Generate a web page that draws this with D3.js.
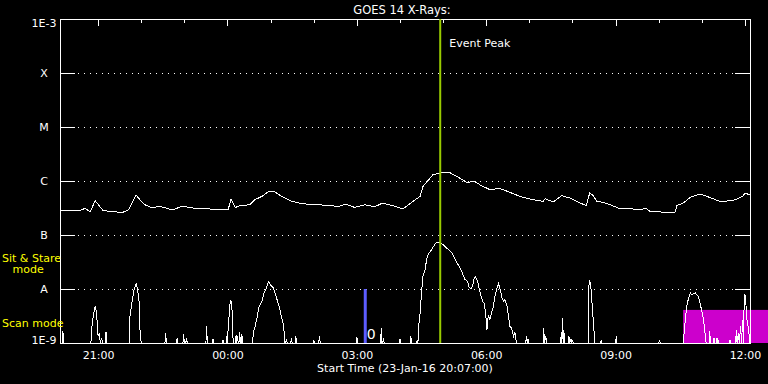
<!DOCTYPE html>
<html>
<head>
<meta charset="utf-8">
<script src="https://cdn.jsdelivr.net/npm/d3@7"></script>
<style>
  body { margin: 0; background: #000; }
  svg { display: block; background: #000; }
  text { font-family: "DejaVu Sans", sans-serif; fill: #fff; }
</style>
</head>
<body>
<svg id="chart" width="768" height="384"></svg>
<script>
// time axis: 23-Jan-16 20:07 to 24-Jan-16 12:07 UT
const startTime = new Date(Date.UTC(2016, 0, 23, 20, 7));
const endTime = new Date(Date.UTC(2016, 0, 24, 12, 7));

// flare classes on the log axis
const classFlux = [1e-9, 1e-8, 1e-7, 1e-6, 1e-5, 1e-4, 1e-3];
const classLabels = ['1E-9', 'A', 'B', 'C', 'M', 'X', '1E-3'];

// [minutes after start, W/m^2]  long channel (1-8 A)
const longChannel = [
  [0,2.86e-7],[28,2.88e-7],[35,3.11e-7],[42,2.70e-7],[49,4.32e-7],[60,2.82e-7],[77,2.70e-7],
  [86,2.59e-7],[95,2.90e-7],[106,5.50e-7],[111,4.51e-7],[118,3.64e-7],[128,3.20e-7],[139,3.39e-7],
  [149,3.11e-7],[157,2.90e-7],[170,3.44e-7],[181,3.20e-7],[195,3.07e-7],[209,3.03e-7],[234,2.94e-7],
  [238,4.70e-7],[244,3.24e-7],[250,3.49e-7],[264,3.64e-7],[271,4.51e-7],[281,5.19e-7],[289,6.26e-7],
  [299,6.26e-7],[310,5.05e-7],[323,4.19e-7],[337,3.80e-7],[355,3.64e-7],[376,3.53e-7],[387,3.34e-7],
  [397,3.75e-7],[410,3.24e-7],[424,3.64e-7],[438,3.34e-7],[449,3.91e-7],[463,3.49e-7],[473,3.16e-7],
  [477,3.03e-7],[491,4.19e-7],[501,5.19e-7],[505,7.94e-7],[511,9.83e-7],[519,1.31e-6],[529,1.41e-6],
  [543,1.41e-6],[552,1.22e-6],[566,9.42e-7],[577,9.83e-7],[584,8.54e-7],[598,6.90e-7],[612,7.29e-7],
  [626,6.15e-7],[640,5.19e-7],[654,4.64e-7],[672,4.19e-7],[675,4.70e-7],[686,4.08e-7],[698,5.34e-7],
  [710,4.80e-7],[719,4.19e-7],[732,3.49e-7],[737,5.99e-7],[742,5.34e-7],[747,4.19e-7],[756,4.02e-7],
  [765,3.64e-7],[779,3.07e-7],[797,3.03e-7],[811,3.03e-7],[815,3.16e-7],[821,2.74e-7],[845,2.62e-7],
  [856,2.67e-7],[858,3.49e-7],[867,3.91e-7],[877,4.97e-7],[890,5.74e-7],[904,4.97e-7],[918,4.19e-7],
  [936,4.32e-7],[950,5.19e-7],[953,5.99e-7],[960,5.50e-7]
];

// short channel (0.5-4 A), 0 = below 1E-9
const shortChannel = [
  [0,0],[3,0],[4,1.69e-9],[5,0],
  [43,0],[45,2.51e-9],[49,4.91e-9],[50,4.14e-9],[51,3.34e-9],[53,1.33e-9],[55,1.55e-9],[56,0],
  [58,1.25e-9],[59,0],[63,0],[64,1.60e-9],[65,0],
  [96,0],[97,2.94e-9],[100,5.58e-9],[103,9.70e-9],[106,1.24e-8],[108,9.70e-9],[110,5.89e-9],
  [111,1.90e-9],[113,0],
  [146,0],[147,1.55e-9],[148,0],[162,0],[163,1.25e-9],[164,0],
  [171,0],[172,1.47e-9],[173,0],[175,0],[176,1.25e-9],[177,0],
  [203,0],[204,2.03e-9],[205,0],[212,0],[213,1.20e-9],[214,0],
  [226,0],[227,1.15e-9],[228,0],[231,0],[232,1.37e-9],[233,0],[234,1.92e-9],[237,6.34e-9],
  [239,5.51e-9],[240,2.18e-9],[241,0],
  [244,0],[245,1.42e-9],[246,0],[247,1.33e-9],[248,0],[249,0],[250,1.60e-9],[251,0],
  [252,0],[253,1.47e-9],[254,0],
  [268,0],[269,1.64e-9],[271,1.90e-9],[274,2.90e-9],[277,4.76e-9],[281,5.89e-9],[284,8.43e-9],
  [288,1.12e-8],[290,1.38e-8],[293,1.17e-8],[297,1.04e-8],[301,6.99e-9],[305,4.76e-9],
  [308,3.11e-9],[311,2.18e-9],[313,0],
  [314,0],[315,1.20e-9],[316,0],[321,0],[322,1.25e-9],[323,0],[327,0],[328,1.37e-9],[329,0],
  [352,0],[353,1.15e-9],[354,0],[360,0],[361,1.37e-9],[362,0],[412,0],[413,1.31e-9],[414,0],
  [446,0],[447,1.90e-9],[448,0],[449,0],[450,1.25e-9],[451,0],
  [472,0],[473,1.20e-9],[474,0],[487,0],[488,1.37e-9],[489,0],
  [496,0],[497,1.15e-9],[498,0],[499,2.03e-9],[501,3.59e-9],[503,8.43e-9],[505,1.71e-8],
  [508,2.28e-8],[510,3.49e-8],[512,4.32e-8],[517,5.34e-8],[522,6.90e-8],[525,7.42e-8],
  [529,7.11e-8],[533,6.61e-8],[538,5.74e-8],[543,4.97e-8],[546,4.51e-8],[550,3.49e-8],
  [554,2.82e-8],[559,2.12e-8],[563,1.53e-8],[567,1.38e-8],[569,1.09e-8],[572,1.00e-8],
  [574,1.12e-8],[576,1.53e-8],[578,1.67e-8],[581,1.38e-8],[583,1.04e-8],[586,7.29e-9],
  [588,5.89e-9],[590,5.51e-9],[592,3.85e-9],[594,1.76e-9],[596,3.34e-9],[598,2.70e-9],
  [601,3.85e-9],[603,4.76e-9],[605,7.29e-9],[608,1.04e-8],[610,1.25e-8],[612,1.04e-8],
  [615,6.81e-9],[617,5.89e-9],[619,6.34e-9],[622,4.76e-9],[624,3.11e-9],[626,2.03e-9],
  [628,1.90e-9],[631,1.33e-9],[633,1.57e-9],[635,0],
  [648,0],[649,1.37e-9],[650,0],[651,1.20e-9],[652,0],
  [672,0],[673,1.90e-9],[674,0],[676,1.33e-9],[677,0],
  [696,0],[697,1.29e-9],[698,0],[699,2.90e-9],[700,0],[701,1.76e-9],[702,0],
  [707,0],[708,1.37e-9],[709,0],[711,1.20e-9],[712,0],[713,1.15e-9],[714,0],
  [735,0],[736,1.20e-8],[737,1.49e-8],[739,9.70e-9],[740,5.89e-9],[741,3.85e-9],[743,1.64e-9],[744,0],
  [752,0],[753,1.10e-9],[754,0],[773,0],[774,1.33e-9],[775,0],[833,0],[834,1.15e-9],[835,0],
  [867,0],[870,2.70e-9],[872,4.76e-9],[874,6.34e-9],[877,8.43e-9],[879,7.84e-9],[881,8.18e-9],
  [884,8.43e-9],[886,7.84e-9],[888,7.29e-9],[890,5.89e-9],[893,3.85e-9],[895,2.90e-9],
  [897,1.76e-9],[899,0],
  [903,0],[904,1.64e-9],[905,0],[909,0],[910,1.24e-9],[911,0],[913,0],[914,1.24e-9],[915,0],
  [916,1.15e-9],[917,0],[931,0],[932,1.15e-9],[933,0],
  [940,0],[941,1.76e-9],[942,0],[944,1.55e-9],[945,0],[947,2.03e-9],[948,0],[950,2.70e-9],
  [951,0],[952,7.84e-9],[954,7.29e-9],[955,3.11e-9],[958,1.76e-9],[960,0]
];

// annotations (minutes after start)
const eventPeakMinute = 529;
const markerMinute = 424;
const markerTop = 1e-8;
const markerLabel = '0';
const scanWindow = { from: 867, to: 995, low: 1e-9, high: 4.1e-9 };
const modeLabels = [
  { text: 'Sit & Stare', indent: 0, flux: 3.2e-8 },
  { text: 'mode', indent: 10.5, flux: 1.95e-8 },
  { text: 'Scan mode', indent: 0, flux: 1.95e-9 }
];

const svg = d3.select('#chart');
const plotLeft = 60, plotRight = 750, plotTop = 19, plotBottom = 343;

const atMinute = m => new Date(startTime.getTime() + m * 60000);
const x = d3.scaleUtc().domain([startTime, endTime]).range([plotLeft, plotRight]);
const y = d3.scaleLog().domain([1e-9, 1e-3]).range([plotBottom, plotTop]).clamp(true);
const fy = v => y(Math.max(v, 1e-9));

// scan mode box (behind everything)
svg.append('rect')
  .attr('x', x(atMinute(scanWindow.from)))
  .attr('y', y(scanWindow.high))
  .attr('width', x(atMinute(scanWindow.to)) - x(atMinute(scanWindow.from)))
  .attr('height', y(scanWindow.low) - y(scanWindow.high))
  .attr('fill', '#cc00cc');

// dotted class lines
svg.append('g').selectAll('line')
  .data(classFlux.slice(1, -1))
  .join('line')
  .attr('x1', plotLeft + 18).attr('x2', plotRight - 15)
  .attr('y1', d => y(d) + 0.5).attr('y2', d => y(d) + 0.5)
  .attr('stroke', '#fff')
  .attr('stroke-dasharray', '1 5')
  .attr('shape-rendering', 'crispEdges');

// axes
const styleAxis = g => {
  g.selectAll('path, line').attr('stroke', '#fff').attr('shape-rendering', 'crispEdges');
  g.attr('font-family', null).attr('font-size', null);
};

svg.append('g')
  .attr('transform', `translate(${plotLeft},0)`)
  .call(d3.axisLeft(y).tickValues(classFlux).tickSize(-15).tickSizeOuter(0)
    .tickFormat((d, i) => classLabels[i]))
  .call(styleAxis)
  .call(g => g.selectAll('text')
    .attr('x', -16)
    .attr('text-anchor', 'middle')
    .attr('font-size', 11)
    .attr('fill', '#fff')
    .attr('dy', (d, i) => i === 0 ? '0.08em' : i === classFlux.length - 1 ? '0.7em' : '0.36em'));

svg.append('g')
  .attr('transform', `translate(${plotRight},0)`)
  .call(d3.axisRight(y).tickValues(classFlux).tickSize(-15).tickSizeOuter(0).tickFormat(''))
  .call(styleAxis);

svg.append('g')
  .attr('transform', `translate(0,${plotTop})`)
  .call(d3.axisTop(x).ticks(d3.utcHour.every(1)).tickSize(-3.5).tickSizeOuter(0).tickFormat(''))
  .call(styleAxis);

svg.append('g')
  .attr('transform', `translate(0,${plotTop})`)
  .call(d3.axisTop(x).ticks(d3.utcHour.every(3)).tickSize(-7).tickSizeOuter(0).tickFormat(''))
  .call(styleAxis);

svg.append('g')
  .attr('transform', `translate(0,${plotBottom})`)
  .call(d3.axisBottom(x).ticks(d3.utcHour.every(3)).tickSize(0).tickSizeOuter(0)
    .tickPadding(8.5).tickFormat(d3.utcFormat('%H:%M')))
  .call(styleAxis)
  .call(g => g.selectAll('text').attr('font-size', 11).attr('fill', '#fff'));

// data curves
const line = d3.line()
  .x(d => x(atMinute(d[0])))
  .y(d => fy(d[1]));

[longChannel, shortChannel].forEach(series => {
  svg.append('path')
    .datum(series)
    .attr('d', line)
    .attr('fill', 'none')
    .attr('stroke', '#fff')
    .attr('stroke-width', 1)
    .attr('shape-rendering', 'crispEdges');
});

// event peak marker
const peakX = x(atMinute(eventPeakMinute));
svg.append('line')
  .attr('x1', peakX).attr('x2', peakX)
  .attr('y1', y(1e-3)).attr('y2', y(1e-9))
  .attr('stroke', '#99cc00')
  .attr('stroke-width', 2);
svg.append('text')
  .attr('x', peakX + 9).attr('y', 46.5)
  .attr('font-size', 11)
  .text('Event Peak');

// blue marker
const markX = x(atMinute(markerMinute)) + 0.5;
svg.append('line')
  .attr('x1', markX).attr('x2', markX)
  .attr('y1', y(markerTop)).attr('y2', y(1e-9))
  .attr('stroke', '#5c5cff')
  .attr('stroke-width', 3);
svg.append('text')
  .attr('x', markX + 1.5).attr('y', 338.5)
  .attr('font-size', 14)
  .text(markerLabel);

// mode labels
svg.append('g').selectAll('text')
  .data(modeLabels)
  .join('text')
  .attr('x', d => 2 + d.indent)
  .attr('y', d => fy(d.flux))
  .attr('font-size', 11)
  .style('fill', '#ffff00')
  .text(d => d.text);

// title and x label
svg.append('text')
  .attr('x', 402).attr('y', 13.5)
  .attr('text-anchor', 'middle')
  .attr('font-size', 11.5)
  .text('GOES 14 X-Rays:');

svg.append('text')
  .attr('x', (plotLeft + plotRight) / 2).attr('y', 372)
  .attr('text-anchor', 'middle')
  .attr('font-size', 11)
  .text('Start Time (23-Jan-16 20:07:00)');
</script>
</body>
</html>
